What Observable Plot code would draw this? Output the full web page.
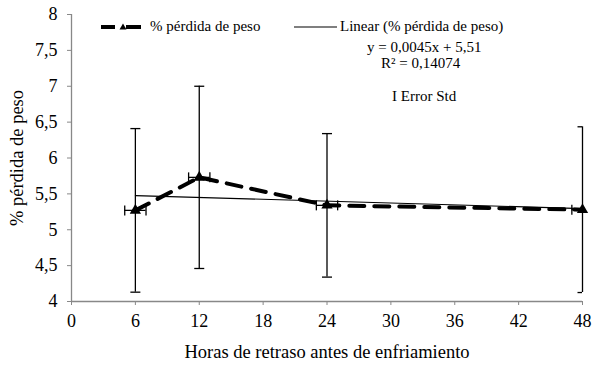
<!DOCTYPE html>
<html>
<head>
<meta charset="utf-8">
<script src="https://cdn.jsdelivr.net/npm/d3@7"></script>
<script src="https://cdn.jsdelivr.net/npm/@observablehq/plot@0.6"></script>
<style>
  html, body { margin: 0; padding: 0; background: #fff; }
  #wrap { position: relative; width: 608px; height: 366px; font-family: "Liberation Serif", serif; color: #000; }
  #wrap svg, #wrap svg text { font-family: "Liberation Serif", serif !important; }
  .lg { position: absolute; font-size: 15px; white-space: nowrap; line-height: 1; }
</style>
</head>
<body>
<div id="wrap"></div>
<script>
const hours = [6, 12, 24, 48];
const weightLoss = [5.27, 5.73, 5.34, 5.28];
const stdError = [1.14, 1.27, 1.0, 1.155];
const hourError = [1, 1, 1, 1];
const xTicks = [0, 6, 12, 18, 24, 30, 36, 42, 48];
const yTicks = [4, 4.5, 5, 5.5, 6, 6.5, 7, 7.5, 8];
const seriesName = "% pérdida de peso";
const trendName = "Linear (% pérdida de peso)";
const equation = "y = 0,0045x + 5,51";
const r2 = "R² = 0,14074";
const errorName = "I Error Std";
const xLabel = "Horas de retraso antes de enfriamiento";
const yLabel = "% pérdida de peso";

const data = hours.map((h, i) => ({h, v: weightLoss[i], e: stdError[i], xe: hourError[i]}));
const fmt = d => String(d).replace(".", ",");

const hCap = {draw(ctx) { ctx.moveTo(-5, 0); ctx.lineTo(5, 0); }};
const vCap = {draw(ctx) { ctx.moveTo(0, -5); ctx.lineTo(0, 5); }};

const font = "Liberation Serif";
const plot = Plot.plot({
  width: 608,
  height: 366,
  marginLeft: 71,
  marginRight: 26,
  marginTop: 14,
  marginBottom: 65,
  style: {fontFamily: font, fontSize: "18px", color: "#000", background: "#fff"},
  x: {domain: [0, 48]},
  y: {domain: [4, 8]},
  marks: [
    Plot.ruleY([4], {stroke: "#888", strokeWidth: 1.3}),
    Plot.ruleX([0], {stroke: "#888", strokeWidth: 1.3}),
    Plot.axisX({ticks: xTicks, tickSize: 4, tickPadding: 9, stroke: "#888", fill: "#000", tickFormat: fmt,
      fontSize: 18, label: null}),
    Plot.axisX({ticks: [], label: xLabel, labelAnchor: "center", labelOffset: 56, labelArrow: false, fontSize: 18.5, fill: "#000"}),
    Plot.axisY({ticks: yTicks, tickSize: 4, tickPadding: 10, stroke: "#888", fill: "#000", tickFormat: fmt,
      fontSize: 18, label: null}),
    Plot.axisY({ticks: [], label: yLabel, labelAnchor: "center", labelOffset: 62, labelArrow: false, fontSize: 18.5, fill: "#000"}),
    // vertical std error bars
    Plot.ruleX(data, {x: "h", y1: d => d.v - d.e, y2: d => d.v + d.e, stroke: "#000", strokeWidth: 1.3}),
    Plot.dot(data, {x: "h", y: d => d.v - d.e, symbol: hCap, stroke: "#000", strokeWidth: 1.3, fill: "none", clip: true}),
    Plot.dot(data, {x: "h", y: d => d.v + d.e, symbol: hCap, stroke: "#000", strokeWidth: 1.3, fill: "none", clip: true}),
    // horizontal error bars
    Plot.ruleY(data, {y: "v", x1: d => d.h - d.xe, x2: d => d.h + d.xe, stroke: "#000", strokeWidth: 1.3, clip: true}),
    Plot.dot(data, {x: d => d.h - d.xe, y: "v", symbol: vCap, stroke: "#000", strokeWidth: 1.3, fill: "none", clip: true}),
    Plot.dot(data, {x: d => d.h + d.xe, y: "v", symbol: vCap, stroke: "#000", strokeWidth: 1.3, fill: "none", clip: true}),
    // linear trend
    Plot.linearRegressionY(data, {x: "h", y: "v", ci: 0, stroke: "#000", strokeWidth: 1.1}),
    // series
    Plot.line(data, {x: "h", y: "v", stroke: "#000", strokeWidth: 4, strokeDasharray: "15,10"}),
    Plot.dot(data, {x: "h", y: "v", symbol: "triangle", r: 4.2, fill: "#000", stroke: "none"})
  ]
});
const wrap = document.getElementById("wrap");
wrap.appendChild(plot);

function addText(txt, left, top) {
  const d = document.createElement("div");
  d.className = "lg";
  d.textContent = txt;
  d.style.left = left + "px";
  d.style.top = top + "px";
  wrap.appendChild(d);
  return d;
}
// legend symbols
const ns = "http://www.w3.org/2000/svg";
const sym = document.createElementNS(ns, "svg");
sym.setAttribute("width", "608"); sym.setAttribute("height", "40");
sym.style.position = "absolute"; sym.style.left = "0"; sym.style.top = "0";
sym.innerHTML =
  `<line x1="101" x2="115" y1="27" y2="27" stroke="#000" stroke-width="4"/>` +
  `<line x1="126" x2="141" y1="27" y2="27" stroke="#000" stroke-width="4"/>` +
  `<path d="M123,23.5L126.5,29.5L119.5,29.5Z" fill="#000"/>` +
  `<line x1="294" x2="337" y1="27" y2="27" stroke="#000" stroke-width="1.1"/>`;
wrap.appendChild(sym);
addText(seriesName, 150, 19);
addText(trendName, 340, 19);
addText(equation, 367, 40);
addText(r2, 381, 56);
addText(errorName, 392, 89);
</script>
</body>
</html>
